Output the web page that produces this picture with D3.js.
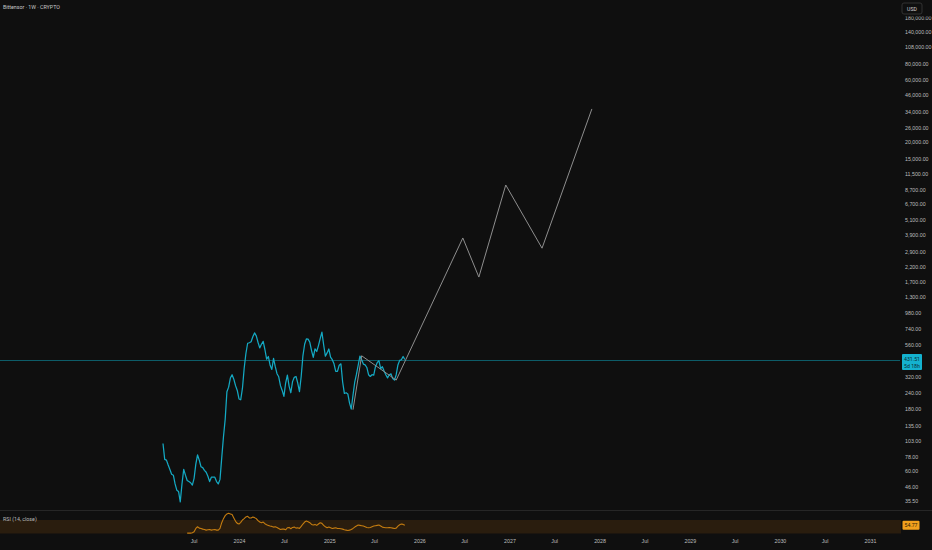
<!DOCTYPE html>
<html><head><meta charset="utf-8">
<script src="https://cdn.jsdelivr.net/npm/d3@7"></script>
<style>
html,body{margin:0;padding:0;background:#0f0f0f;}
svg{display:block;font-family:Roboto,"Liberation Sans",sans-serif;}
</style></head><body>
<svg id="chart" width="932" height="550"></svg>
<script>
const chartTitle = "Bittensor · 1W · CRYPTO";
const currency = "USD";
const firstWeek = "2023-02-27";
const weeklyClose = [
  98,74,73,67,62,57,56,48,43,42,
  35,48,62,56,51,50,49,47,53,68,
  80,73,65,64,61,59,55,50,54,54,
  54,50,48,52,76,110,150,244,265,311,
  330,305,272,250,215,212,260,370,480,575,
  580,590,645,690,655,585,530,565,595,515,
  435,455,390,362,440,380,336,318,272,250,
  225,285,328,270,240,292,315,320,285,245,
  320,460,565,620,618,585,505,448,520,497,
  552,625,700,560,458,485,520,450,430,400,
  350,350,390,400,290,237,240,235,200,180,
  230,290,333,390,458,430,398,393,375,330,
  320,330,328,380,408,423,368,380,352,330,
  312,330,335,308,300,330,392,425,430,455,
  431.51
];
const rsiFirstIndex = 14;
const rsiValues = [
  31,31,31,32,35,45,50,46,45,43,
  42,40,41,42,40,41,42,40,40,45,
  62,74,83,88,90,88,86,76,66,60,
  58,63,70,74,79,81,76,76,79,77,
  74,68,64,62,64,59,56,54,52,51,
  49,50,48,45,42,43,43,41,47,48,
  44,48,49,46,47,45,51,58,64,67,
  65,62,57,55,57,54,58,62,60,54,
  50,47,49,47,45,46,47,45,45,44,
  43,41,40,39,40,42,45,49,52,55,
  54,53,52,50,48,47,48,50,52,53,
  54,55,52,49,48,47,47,48,47,46,
  45,46,52,56,58,57,54.77
];
const rsiLabel = "RSI (14, close)";
const countdown = "5d 18h";
const drawingDates = ["2025-04-07","2025-05-12","2025-09-29","2026-06-26","2026-08-30","2026-12-17","2027-05-13","2027-12-01"];
const drawingPrices = [178, 461, 300, 3690, 1850, 9400, 3080, 36000];
const priceTicks = [35.5,46,60,78,103,135,180,240,320,560,740,980,1300,1700,2200,2900,3900,5100,6700,8700,11500,15000,20000,26000,34000,46000,60000,80000,108000,140000,180000];
const timeTicks = ["2023-07-01","2024-01-01","2024-07-01","2025-01-01","2025-07-01","2026-01-01","2026-07-01","2027-01-01","2027-07-01","2028-01-01","2028-07-01","2029-01-01","2029-07-01","2030-01-01","2030-07-01","2031-01-01"];
const timeTickLabels = ["Jul","2024","Jul","2025","Jul","2026","Jul","2027","Jul","2028","Jul","2029","Jul","2030","Jul","2031"];

const W = 932, H = 550;
const plotRight = 900, paneBottom = 510;
const svg = d3.select("#chart");
svg.append("rect").attr("width", W).attr("height", H).attr("fill", "#0f0f0f");

const x = d3.scaleUtc().domain([new Date("2024-01-01"), new Date("2031-01-01")]).range([239, 870]);
const y = d3.scaleLog().domain([35.5, 140000]).range([501, 32]);
const yr = d3.scaleLinear().domain([30, 70]).range([533.5, 520]);

const start = new Date(firstWeek);
const weekDate = i => d3.utcDay.offset(start, 7 * i);
const priceData = weeklyClose.map((v, i) => ({d: weekDate(i), v}));
const rsiData = rsiValues.map((v, i) => ({d: weekDate(i + rsiFirstIndex), v}));
const drawData = drawingDates.map((d, i) => ({d: new Date(d), v: drawingPrices[i]}));

const defs = svg.append("defs");
defs.append("clipPath").attr("id", "pc").append("rect").attr("x", 0).attr("y", 0).attr("width", plotRight).attr("height", paneBottom);

// RSI band
svg.append("rect").attr("x", 0).attr("y", yr(70)).attr("width", plotRight + 1).attr("height", yr(30) - yr(70)).attr("fill", "#2a1d0e");
// pane separator
svg.append("line").attr("x1", 0).attr("x2", W).attr("y1", paneBottom + 0.5).attr("y2", paneBottom + 0.5).attr("stroke", "#262626").attr("stroke-width", 1);

const pane = svg.append("g").attr("clip-path", "url(#pc)");
const last = weeklyClose[weeklyClose.length - 1];
pane.append("line").attr("x1", 0).attr("x2", plotRight).attr("y1", Math.round(y(last)) + 0.5).attr("y2", Math.round(y(last)) + 0.5)
  .attr("stroke", "#0d5c68").attr("stroke-width", 1);

const line = d3.line().x(d => x(d.d)).y(d => y(d.v));
pane.append("path").datum(priceData).attr("d", line).attr("fill", "none").attr("stroke", "#14a9c3").attr("stroke-width", 1.25).attr("stroke-linejoin", "round");
pane.append("path").datum(drawData).attr("d", line).attr("fill", "none").attr("stroke", "#8e8e8e").attr("stroke-width", 1);

// RSI line
const rline = d3.line().x(d => x(d.d)).y(d => yr(d.v));
svg.append("path").datum(rsiData).attr("d", rline).attr("fill", "none").attr("stroke", "#c47c10").attr("stroke-width", 1.1).attr("stroke-linejoin", "round");

// Y axis
const fmt = d3.format(",.2f");
const yAxis = d3.axisRight(y).tickValues(priceTicks).tickFormat(d => fmt(d)).tickSize(0).tickPadding(5);
const ga = svg.append("g").attr("transform", `translate(${plotRight},0)`).call(yAxis);
ga.select(".domain").remove();
ga.selectAll("text").attr("fill", "#bdbdbd").attr("font-size", 5.3);

// X axis
const xAxis = d3.axisBottom(x).tickValues(timeTicks.map(t => new Date(t))).tickFormat((d, i) => timeTickLabels[i]).tickSize(0).tickPadding(0);
const gx = svg.append("g").attr("transform", `translate(0,540)`).call(xAxis);
gx.select(".domain").remove();
gx.selectAll("text").attr("fill", "#bdbdbd").attr("font-size", 5.3).attr("dy", "0.5em");

// USD button area (hides top of the highest label)
svg.append("rect").attr("x", plotRight + 1).attr("y", 0).attr("width", W - plotRight).attr("height", 16.5).attr("fill", "#0f0f0f");
svg.append("rect").attr("x", 902).attr("y", 3).attr("width", 20).attr("height", 11).attr("rx", 2).attr("fill", "#0f0f0f").attr("stroke", "#3a3a3a").attr("stroke-width", 0.8);
svg.append("text").attr("x", 912).attr("y", 10.5).attr("text-anchor", "middle").attr("fill", "#d0d0d0").attr("font-size", 5.2).text(currency);

// Title
svg.append("text").attr("x", 3).attr("y", 9).attr("fill", "#c8c8c8").attr("font-size", 5.3).text(chartTitle);

// Last price label
const ly = y(last);
svg.append("rect").attr("x", 902).attr("y", ly - 5.5).attr("width", 20).attr("height", 16).attr("fill", "#14b2cf").attr("rx", 1);
svg.append("text").attr("x", 912).attr("y", ly + 1.5).attr("text-anchor", "middle").attr("fill", "#0b2a33").attr("font-size", 5.2).text(d3.format(".2f")(last));
svg.append("text").attr("x", 912).attr("y", ly + 8.5).attr("text-anchor", "middle").attr("fill", "#0b2a33").attr("font-size", 5.2).text(countdown);

// RSI label & value
svg.append("text").attr("x", 3).attr("y", 521).attr("fill", "#b8b8b8").attr("font-size", 5.3).text(rsiLabel);
const lr = rsiValues[rsiValues.length - 1];
svg.append("rect").attr("x", 902.5).attr("y", yr(lr) - 4.5).attr("width", 17).attr("height", 9).attr("fill", "#f2a01d").attr("rx", 1);
svg.append("text").attr("x", 911).attr("y", yr(lr) + 1.8).attr("text-anchor", "middle").attr("fill", "#2a1a05").attr("font-size", 5.2).text(d3.format(".2f")(lr));
</script>
</body></html>
